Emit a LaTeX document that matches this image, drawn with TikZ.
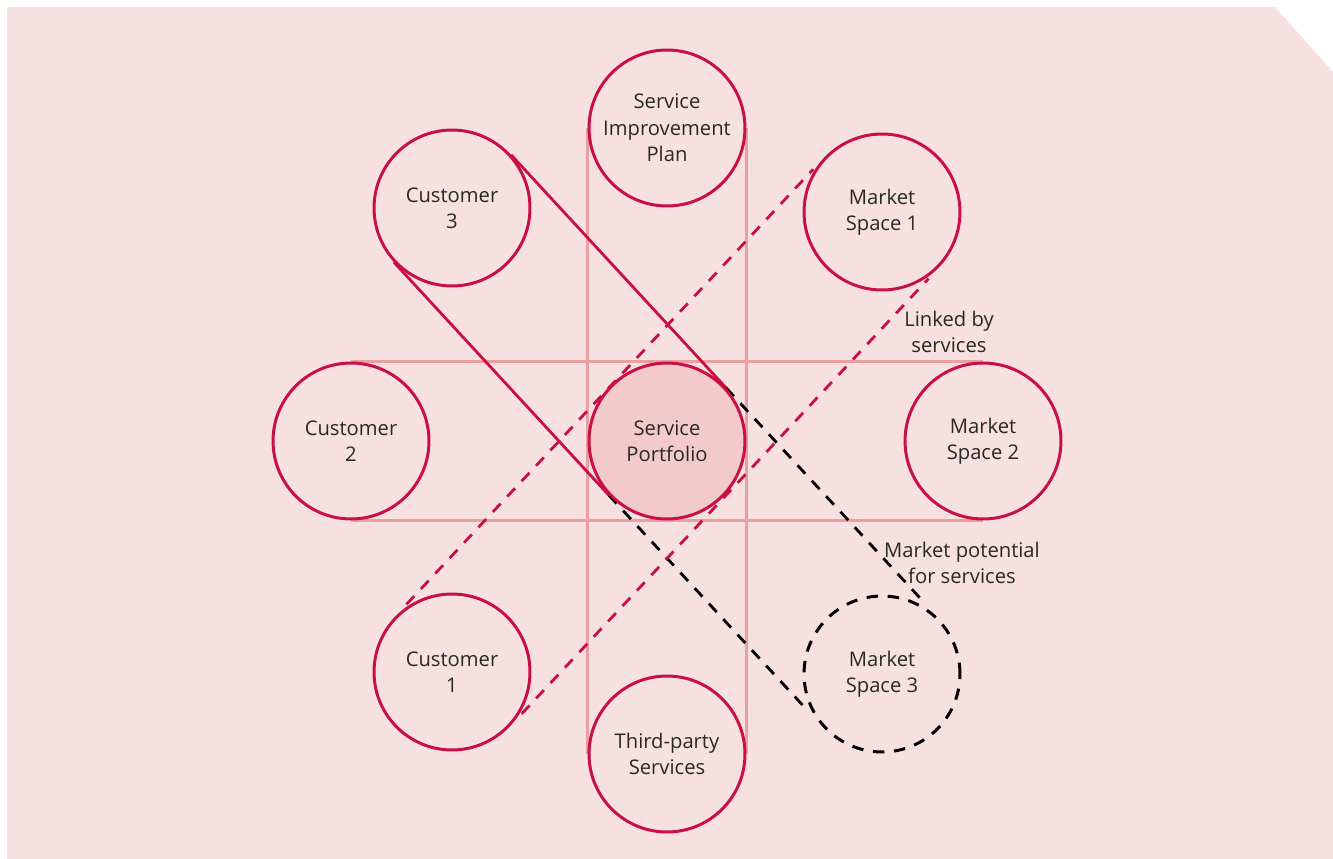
\documentclass[tikz,border=0pt]{standalone}
\usepackage{fontspec}
\setmainfont{Open Sans}
\usetikzlibrary{backgrounds}
\definecolor{bgpink}{RGB}{247,225,224}
\definecolor{hubpink}{RGB}{242,202,201}
\definecolor{gridpink}{RGB}{233,160,158}
\definecolor{crimson}{RGB}{200,16,70}
\definecolor{txtgray}{RGB}{40,40,40}

\begin{document}
\begin{tikzpicture}[x=0.02cm, y=-0.02cm,
	ring/.style={circle, draw=crimson, line width=1.7pt, fill=bgpink, minimum size=3.12cm, inner sep=0pt,
		align=center, text=txtgray, font=\fontsize{11.5}{15}\selectfont},
	hub/.style={ring, fill=hubpink},
	maybe/.style={ring, draw=black, dash pattern=on 6.5pt off 5.5pt},
	tag/.style={align=center, text=txtgray, font=\fontsize{11.5}{15}\selectfont},
	gridline/.style={draw=gridpink, line width=1.7pt},
	link/.style={draw=crimson, line width=1.6pt},
	linkdash/.style={link, dash pattern=on 6.5pt off 5.5pt, shorten <=0.34cm, shorten >=0.34cm},
	potential/.style={draw=black, line width=1.6pt, dash pattern=on 6.5pt off 5.5pt, shorten >=0.54cm}]
	%%%%% START %%%%%
	
	\useasboundingbox (0,0) rectangle (1333,859);
	
	% the ring of circles
	\node[ring] (sip) at (667,128) {Service\\Improvement\\Plan};
	\node[ring] (cust3) at (452,208) {Customer\\3};
	\node[ring] (ms1) at (882,212) {Market\\Space 1};
	\node[ring] (cust2) at (351,441) {Customer\\2};
	\node[hub] (sp) at (667,441) {Service\\Portfolio};
	\node[ring] (ms2) at (983,441) {Market\\Space 2};
	\node[ring] (cust1) at (452,672) {Customer\\1};
	\node[ring] (tps) at (667,754) {Third-party\\Services};
	\node[maybe] (ms3) at (882,674) {Market\\Space 3};
	
	\node[tag] (linked) at (949,332) {Linked by\\services};
	\node[tag] (potent) at (962,563) {Market potential\\for services};
	
	\begin{scope}[on background layer]
		\fill[bgpink] (7,7) -- (1275,7) -- (1333,72) -- (1333,859) -- (7,859) -- cycle;
		
		% straight bands
		\draw[gridline] (sip.west) -- (tps.west);
		\draw[gridline] (sip.east) -- (tps.east);
		\draw[gridline] (cust2.north) -- (ms2.north);
		\draw[gridline] (cust2.south) -- (ms2.south);
		
		% customer 3 to portfolio
		\draw[link] (cust3.42.7) -- (sp.42.7);
		\draw[link] (cust3.-137.3) -- (sp.-137.3);
		
		% portfolio to market space 3
		\draw[potential] (sp.42.7) -- (ms3.42.7);
		\draw[potential] (sp.-137.3) -- (ms3.-137.3);
		
		% customer 1 to market space 1
		\draw[linkdash] (cust1.136.9) -- (ms1.136.9);
		\draw[linkdash] (cust1.-43.1) -- (ms1.-43.1);
	\end{scope}
	
	%%%%% END %%%%%
\end{tikzpicture}
\end{document}
